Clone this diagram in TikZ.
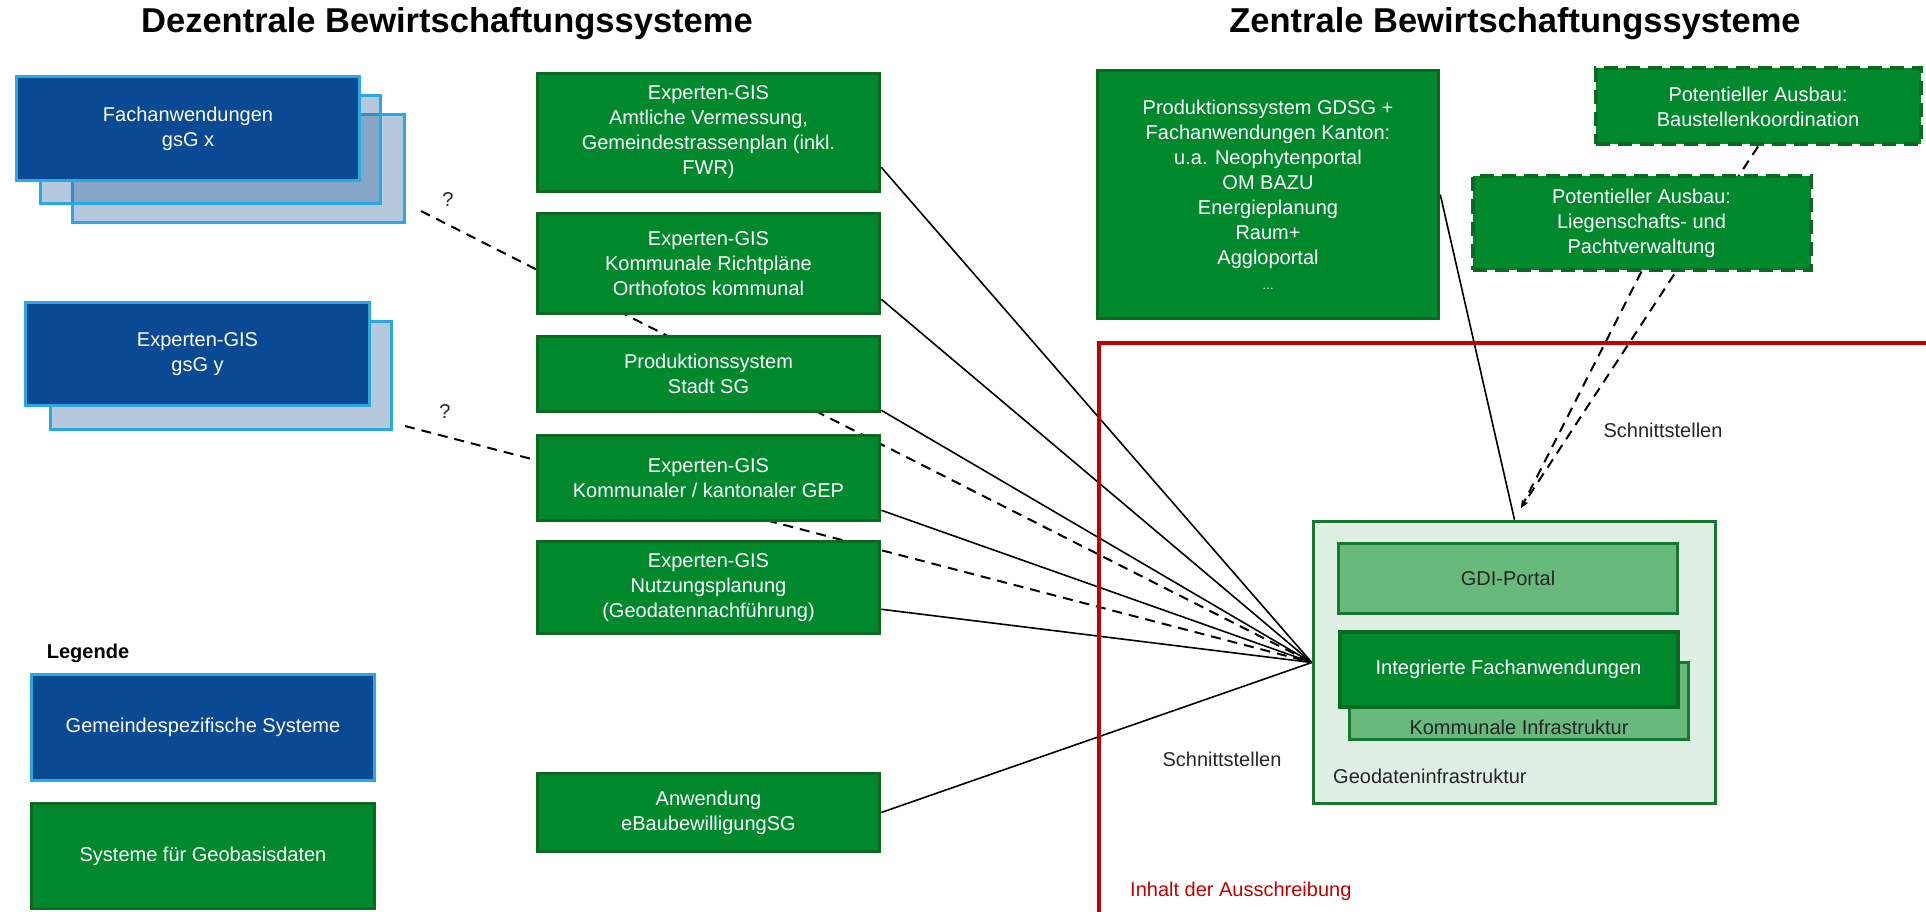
\documentclass[tikz,border=0pt]{standalone}
\usepackage{fontspec}
\setmainfont{Liberation Sans}
\usetikzlibrary{positioning,backgrounds,arrows.meta}

\definecolor{gsblue}{RGB}{10,74,148}
\definecolor{gsedge}{RGB}{41,168,226}
\definecolor{gsshade}{RGB}{54,105,161}
\definecolor{geogreen}{RGB}{0,136,44}
\definecolor{geoedge}{RGB}{10,106,34}
\definecolor{gdifill}{RGB}{223,239,227}
\definecolor{gdiedge}{RGB}{23,121,47}
\definecolor{portalfill}{RGB}{103,185,124}
\definecolor{darktext}{RGB}{38,38,38}
\definecolor{ausschrred}{RGB}{192,0,0}

\newcommand{\bodyfont}{\fontsize{20}{25}\selectfont}

\tikzset{
  gsbox/.style={draw=gsedge, fill=gsblue, line width=3pt, text=white, align=center, inner sep=0pt, font=\bodyfont},
  gsback/.style={draw=gsedge, fill=gsshade, fill opacity=.37, line width=3pt, inner sep=0pt},
  geobox/.style={draw=geoedge, fill=geogreen, line width=3.5pt, text=white, align=center, inner sep=0pt, font=\bodyfont},
  ausbau/.style={geobox, line width=4pt, dash pattern=on 14pt off 8pt},
  gdiframe/.style={draw=gdiedge, fill=gdifill, line width=3.5pt, inner sep=0pt},
  portalbox/.style={draw=gdiedge, fill=portalfill, line width=3.5pt, text=darktext, align=center, inner sep=0pt, font=\bodyfont},
  plaintext/.style={text=darktext, inner sep=0pt, font=\bodyfont},
  titletext/.style={inner sep=0pt, font=\fontsize{34.5}{40}\selectfont\bfseries},
  link/.style={black, line width=1.6pt},
  dlink/.style={link, line width=2pt, dash pattern=on 10pt off 7pt},
  redframe/.style={ausschrred, line width=4.5pt}
}

\begin{document}
\begin{tikzpicture}[x=1pt,y=-1pt]
	%%%%% START %%%%%
	\useasboundingbox (0,0) rectangle (1926,912);
	
	\node[titletext] (dezTitle) at (447,24) {Dezentrale Bewirtschaftungssysteme};
	\node[titletext] (zenTitle) at (1515,24) {Zentrale Bewirtschaftungssysteme};
	
	% gemeindespezifische systeme
	\node[gsback, minimum width=332pt, minimum height=108pt] (gsxC) at (238.5,168.5) {};
	\node[gsback, minimum width=340pt, minimum height=108pt] (gsxB) at (210.5,149.5) {};
	\node[gsbox, minimum width=343pt, minimum height=104pt] (gsx) at (188,128.5) {Fachanwendungen\\gsG x};
	
	\node[gsback, minimum width=341pt, minimum height=108pt] (gsyB) at (221,375.5) {};
	\node[gsbox, minimum width=344pt, minimum height=103pt] (gsy) at (197.5,354) {Experten-GIS\\gsG y};
	
	\node[plaintext] (qx) at (448,200) {?};
	\node[plaintext] (qy) at (445,412) {?};
	
	% systeme fuer geobasisdaten
	\node[geobox, minimum width=342pt, minimum height=118pt] (amtl) at (708.5,132.5) {Experten-GIS\\Amtliche Vermessung,\\Gemeindestrassenplan (inkl.\\FWR)};
	\node[geobox, minimum width=342pt, minimum height=100pt] (richt) at (708.5,263.5) {Experten-GIS\\Kommunale Richtpläne\\Orthofotos kommunal};
	\node[geobox, minimum width=342pt, minimum height=75pt] (prodsg) at (708.5,374) {Produktionssystem\\Stadt SG};
	\node[geobox, minimum width=342pt, minimum height=85pt] (gep) at (708.5,478) {Experten-GIS\\Kommunaler / kantonaler GEP};
	\node[geobox, minimum width=342pt, minimum height=92pt] (nutz) at (708.5,587.5) {Experten-GIS\\Nutzungsplanung\\(Geodatennachführung)};
	\node[geobox, minimum width=342pt, minimum height=78pt] (ebau) at (708.5,812.5) {Anwendung\\eBaubewilligungSG};
	
	% legende
	\node[inner sep=0pt, font=\bodyfont\bfseries] (legTitle) at (88,653) {Legende};
	\node[gsbox, minimum width=343pt, minimum height=106pt] (legGs) at (203,727.5) {Gemeindespezifische Systeme};
	\node[geobox, minimum width=343pt, minimum height=105pt] (legGeo) at (203,856) {Systeme für Geobasisdaten};
	
	% zentrale systeme
	\node[geobox, minimum width=341pt, minimum height=248pt] (gdsg) at (1268,194.5) {Produktionssystem GDSG +\\Fachanwendungen Kanton:\\u.a. Neophytenportal\\OM BAZU\\Energieplanung\\Raum+\\Aggloportal\\{\fontsize{12}{25}\selectfont\dots}};
	\node[ausbau, minimum width=325pt, minimum height=76pt] (baust) at (1758,106.5) {Potentieller Ausbau:\\Baustellenkoordination};
	\node[ausbau, minimum width=338pt, minimum height=93pt] (liegen) at (1641.5,223) {Potentieller Ausbau:\\Liegenschafts- und\\Pachtverwaltung};
	
	\node[gdiframe, minimum width=402pt, minimum height=282pt] (gdi) at (1514.5,662.5) {};
	\node[portalbox, minimum width=339pt, minimum height=70pt] (portal) at (1508,578.5) {GDI-Portal};
	\node[portalbox, minimum width=339pt, minimum height=77pt] (komm) at (1519,701) {};
	\node[plaintext, above=6pt of komm.south] (kommTxt) {Kommunale Infrastruktur};
	\node[geobox, line width=4pt, minimum width=338pt, minimum height=75pt] (integ) at (1508.5,669) {Integrierte Fachanwendungen};
	\node[plaintext, anchor=west] (geoTxt) at (1333,776) {Geodateninfrastruktur};
	
	\node[plaintext] (schnOben) at (1663,430) {Schnittstellen};
	\node[plaintext] (schnUnten) at (1222,759) {Schnittstellen};
	\node[inner sep=0pt, font=\bodyfont, text=ausschrred, anchor=west] (ausschr) at (1130,891) {Inhalt der Ausschreibung};
	
	\coordinate (dx) at (421,211);
	\coordinate (dy) at (405,426);
	\coordinate (gdiin) at (1521,508);
	
	\begin{scope}[on background layer]
		\draw[dlink] (dx) -- (gdi.west);
		\draw[dlink] (dy) -- (gdi.west);
		
		\draw[link] ([yshift=26pt]amtl.south east) -- (gdi.west);
		\draw[link] ([yshift=16pt]richt.south east) -- (gdi.west);
		\draw[link] ([yshift=3pt]prodsg.south east) -- (gdi.west);
		\draw[link] ([yshift=12pt]gep.south east) -- (gdi.west);
		\draw[link] ([yshift=26pt]nutz.south east) -- (gdi.west);
		\draw[link] (ebau.east) -- (gdi.west);
		
		\draw[link] (gdsg.east) -- (gdi.north);
		\draw[dlink, -{Stealth[length=8pt,width=6pt]}] (liegen.south) -- (gdiin);
		\draw[dlink, -{Stealth[length=8pt,width=6pt]}] (baust.south) -- (gdiin);
		
		\draw[redframe] (1926,343) -| (1099,912);
	\end{scope}
	
	%%%%% END %%%%%
\end{tikzpicture}
\end{document}
